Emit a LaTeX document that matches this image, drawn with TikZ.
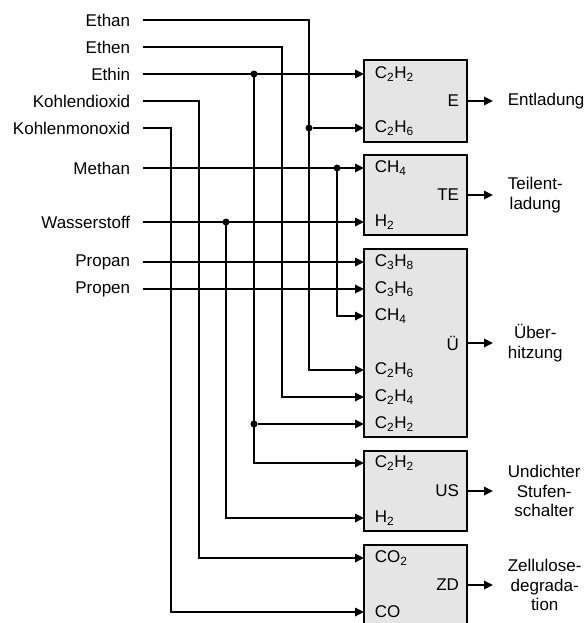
\documentclass[tikz,border=0pt]{standalone}
\usepackage{fontspec}
\setmainfont{Liberation Sans}
\usetikzlibrary{arrows.meta}
\tikzset{
  src/.style={anchor=east,inner xsep=12pt,inner ysep=1pt},
  gas/.style={anchor=west,inner xsep=10pt,inner ysep=1pt},
  faultbox/.style={draw,line width=2pt,fill=gray!20,minimum width=103pt,text width=87pt,align=right,inner xsep=8pt},
  result/.style={anchor=west,inner xsep=14pt,align=center},
  junc/.style={circle,fill,minimum size=7pt,inner sep=0pt},
}
\begin{document}
\begin{tikzpicture}[x=1pt,y=-1pt,line width=1.7pt,>={Triangle[length=9pt,width=8.5pt]},font=\fontsize{17}{19.5}\selectfont]
  \useasboundingbox (0,0) rectangle (584,623);
  % gases
  \node[src] (ethan) at (143,20) {Ethan};
  \node[src] (ethen) at (143,47) {Ethen};
  \node[src] (ethin) at (143,74) {Ethin};
  \node[src] (codi) at (143,101) {Kohlendioxid};
  \node[src] (como) at (143,128) {Kohlenmonoxid};
  \node[src] (methan) at (143,168) {Methan};
  \node[src] (wasser) at (143,222) {Wasserstoff};
  \node[src] (propan) at (143,262) {Propan};
  \node[src] (propen) at (143,289) {Propen};
  % fault boxes
  \node[faultbox,minimum height=81pt] (E) at (415.5,101) {E};
  \node[faultbox,minimum height=80pt] (TE) at (415.5,195) {TE};
  \node[faultbox,minimum height=188pt] (U) at (415.5,343) {Ü};
  \node[faultbox,minimum height=80pt] (US) at (415.5,491) {US};
  \node[faultbox,minimum height=80pt] (ZD) at (415.5,585) {ZD};
  % box inputs
  \node[gas] (E1) at (364,74) {C\textsubscript{2}H\textsubscript{2}};
  \node[gas] (E2) at (364,128) {C\textsubscript{2}H\textsubscript{6}};
  \node[gas] (TE1) at (364,168) {CH\textsubscript{4}};
  \node[gas] (TE2) at (364,222) {H\textsubscript{2}};
  \node[gas] (U1) at (364,262) {C\textsubscript{3}H\textsubscript{8}};
  \node[gas] (U2) at (364,289) {C\textsubscript{3}H\textsubscript{6}};
  \node[gas] (U3) at (364,316) {CH\textsubscript{4}};
  \node[gas] (U4) at (364,370) {C\textsubscript{2}H\textsubscript{6}};
  \node[gas] (U5) at (364,397) {C\textsubscript{2}H\textsubscript{4}};
  \node[gas] (U6) at (364,424) {C\textsubscript{2}H\textsubscript{2}};
  \node[gas] (US1) at (364,463) {C\textsubscript{2}H\textsubscript{2}};
  \node[gas] (US2) at (364,518) {H\textsubscript{2}};
  \node[gas] (ZD1) at (364,558) {CO\textsubscript{2}};
  \node[gas] (ZD2) at (364,612) {CO};
  % results
  \node[result] (Eout) at (493,101) {Entladung};
  \node[result] (TEout) at (493,195) {Teilent-\\ladung};
  \node[result] (Uout) at (493,343) {Über-\\hitzung};
  \node[result] (USout) at (493,491) {Undichter\\Stufen-\\schalter};
  \node[result] (ZDout) at (493,585) {Zellulose-\\degrada-\\tion};
  % junctions
  \node[junc] (j1) at (309,128) {};
  \node[junc] (j2) at (254,74) {};
  \node[junc] (j3) at (254,424) {};
  \node[junc] (j4) at (337,168) {};
  \node[junc] (j5) at (226,222) {};
  % connections
  \draw[->] (ethan) -| (j1.center) |- (U4);
  \draw[->] (j1) -- (E2);
  \draw[->] (ethen) -- (282,47) |- (U5);
  \draw[->] (ethin) -- (E1);
  \draw[->] (j2.center) |- (US1);
  \draw[->] (j3) -- (U6);
  \draw[->] (codi) -- (199,101) |- (ZD1);
  \draw[->] (como) -- (171,128) |- (ZD2);
  \draw[->] (methan) -- (TE1);
  \draw[->] (j4.center) |- (U3);
  \draw[->] (wasser) -- (TE2);
  \draw[->] (j5.center) |- (US2);
  \draw[->] (propan) -- (U1);
  \draw[->] (propen) -- (U2);
  % outputs
  \draw[->] (E) -- (Eout);
  \draw[->] (TE) -- (TEout);
  \draw[->] (U) -- (Uout);
  \draw[->] (US) -- (USout);
  \draw[->] (ZD) -- (ZDout);
\end{tikzpicture}
\end{document}
